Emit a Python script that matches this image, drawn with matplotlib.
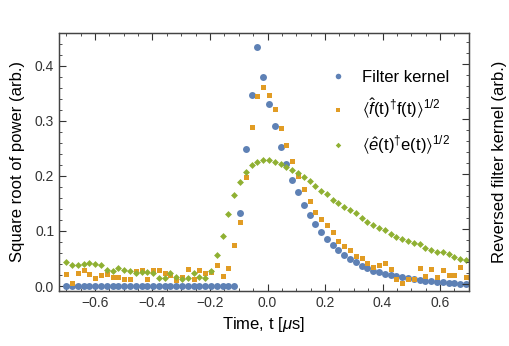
import matplotlib.pyplot as plt
import numpy as np

plt.rcParams['font.family'] = ['Liberation Sans', 'DejaVu Sans']
plt.rcParams['mathtext.fontset'] = 'custom'
plt.rcParams['mathtext.rm'] = 'Liberation Sans'
plt.rcParams['mathtext.it'] = 'Liberation Sans:italic'
plt.rcParams['mathtext.fallback'] = 'stixsans'

# time axis (us), 70 samples
time_us = np.linspace(-0.7, 0.69, 70)

filter_kernel = [0.0] * 30 + [
    0.133, 0.249, 0.347, 0.435, 0.379, 0.331, 0.290, 0.253, 0.221, 0.193,
    0.170, 0.147, 0.129, 0.113, 0.099, 0.085, 0.075, 0.065, 0.056, 0.050,
    0.043, 0.037, 0.032, 0.028, 0.025, 0.022, 0.020, 0.018, 0.016, 0.0145,
    0.0127, 0.011, 0.0097, 0.0085, 0.0073, 0.0067, 0.006, 0.0055, 0.004, 0.003]

f_power = [
    0.022, 0.006, 0.024, 0.030, 0.022, 0.015, 0.020, 0.022, 0.017, 0.017,
    0.013, 0.013, 0.028, 0.030, 0.013, 0.030, 0.030, 0.024, 0.020, 0.011,
    0.017, 0.031, 0.013, 0.030, 0.024, 0.025, 0.038, 0.018, 0.033, 0.075,
    0.117, 0.199, 0.289, 0.346, 0.361, 0.348, 0.321, 0.288, 0.256, 0.228,
    0.200, 0.176, 0.155, 0.135, 0.121, 0.110, 0.099, 0.082, 0.073, 0.065,
    0.055, 0.051, 0.041, 0.035, 0.038, 0.042, 0.031, 0.013, 0.005, 0.012,
    0.012, 0.032, 0.018, 0.031, 0.016, 0.029, 0.020, 0.020, 0.035, 0.017]

e_power = [
    0.044, 0.039, 0.038, 0.040, 0.042, 0.040, 0.038, 0.029, 0.028, 0.032,
    0.030, 0.028, 0.024, 0.026, 0.026, 0.024, 0.015, 0.015, 0.023, 0.016,
    0.013, 0.015, 0.023, 0.016, 0.015, 0.028, 0.056, 0.091, 0.131, 0.165,
    0.189, 0.208, 0.220, 0.226, 0.229, 0.229, 0.225, 0.222, 0.217, 0.211,
    0.205, 0.199, 0.190, 0.182, 0.173, 0.167, 0.156, 0.150, 0.144, 0.139,
    0.132, 0.124, 0.117, 0.111, 0.106, 0.101, 0.095, 0.089, 0.085, 0.082,
    0.079, 0.076, 0.069, 0.065, 0.062, 0.061, 0.058, 0.052, 0.050, 0.048]

labels = ['Filter kernel',
          r'$\langle\hat{f}\mathrm{(t)}^{\dagger}\mathrm{f(t)}\rangle^{1/2}$',
          r'$\langle\hat{e}\mathrm{(t)}^{\dagger}\mathrm{e(t)}\rangle^{1/2}$']

fig = plt.figure(figsize=(5.09, 3.46), dpi=100)
ax = fig.add_axes([0.116, 0.159, 0.805, 0.746])

ax.plot(time_us, filter_kernel, 'o', color='#5E81B5', ms=5.0, mew=0, label=labels[0])
ax.plot(time_us, f_power, 's', color='#E19C24', ms=3.6, mew=0, label=labels[1])
ax.plot(time_us, e_power, 'D', color='#8FB032', ms=3.5, mew=0, label=labels[2])

ax.set_xlim(-0.725, 0.70)
ax.set_ylim(-0.009, 0.46)
ax.set_xticks([-0.6, -0.4, -0.2, 0.0, 0.2, 0.4, 0.6])
ax.set_xticks(np.arange(-0.7, 0.71, 0.05), minor=True)
ax.set_yticks([0.0, 0.1, 0.2, 0.3, 0.4])
ax.set_yticks(np.arange(0.0, 0.46, 0.02), minor=True)
ax.tick_params(which='both', direction='in', top=True, right=False, labelsize=10, colors='#333333')
ax.tick_params(which='major', length=5, width=0.8)
ax.tick_params(which='minor', length=2.5, width=0.6)
for s in ax.spines.values():
    s.set_color('#444444')
    s.set_linewidth(0.9)

ax.set_xlabel(r'Time, t [$\mu$s]', fontsize=12, labelpad=4)
ax.set_ylabel('Square root of power (arb.)', fontsize=12, labelpad=7)

# right axis: only ticks, no numbers
ax2 = ax.twinx()
ax2.set_ylim(-0.009 - 0.0036, 0.46 - 0.0036)
ax2.set_yticks([0.0, 0.1, 0.2, 0.3, 0.4])
ax2.set_yticks(np.arange(0.0, 0.46, 0.02), minor=True)
ax2.tick_params(which='both', direction='in', labelright=False, colors='#333333')
ax2.tick_params(which='major', length=5, width=0.8)
ax2.tick_params(which='minor', length=2.5, width=0.6)
ax2.set_ylabel('Reversed filter kernel (arb.)', fontsize=12, labelpad=17)
for s in ax2.spines.values():
    s.set_color('#444444')
    s.set_linewidth(0.9)

ax.legend(loc='upper left', bbox_to_anchor=(0.625, 0.915), frameon=False, fontsize=12,
          markerscale=0.8, handlelength=1.0, handletextpad=0.9, labelspacing=0.75)

plt.savefig('out.png', dpi=100)
plt.close()
